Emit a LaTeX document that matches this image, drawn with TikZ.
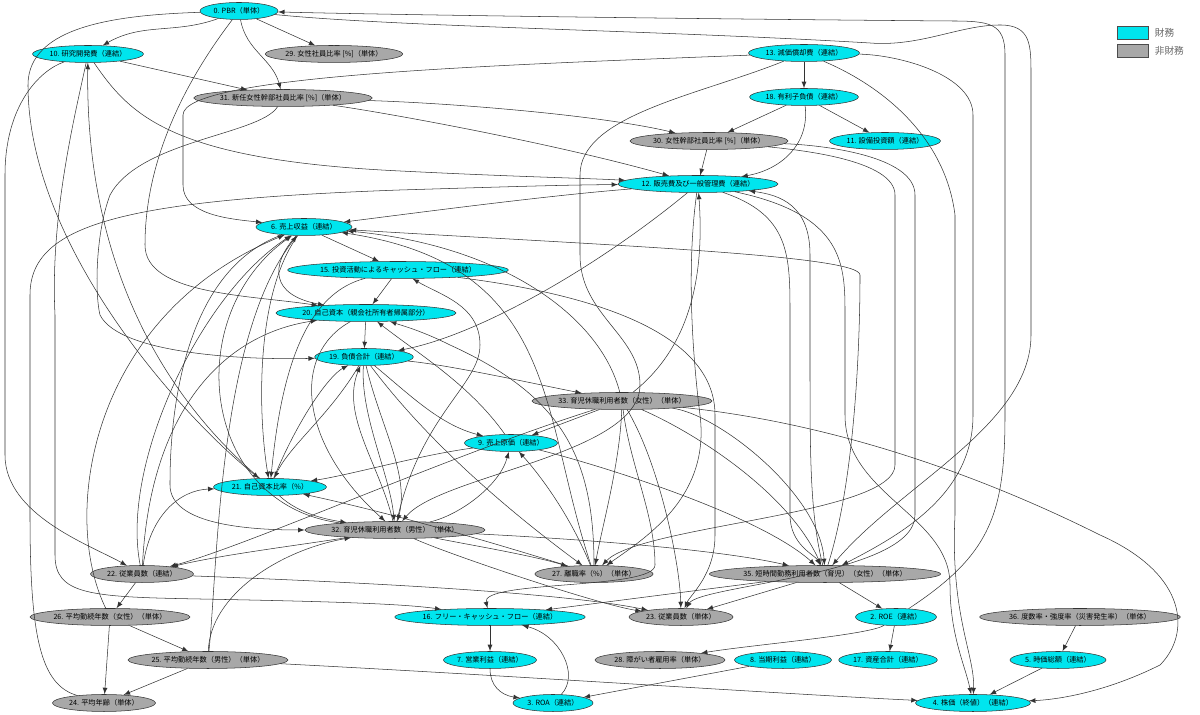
\documentclass[tikz,border=0pt]{standalone}
\usepackage{fontspec}
\setmainfont{Noto Sans CJK JP}
\usetikzlibrary{shapes.geometric}
\definecolor{finc}{RGB}{0,229,238}
\definecolor{nonc}{RGB}{168,168,168}
\begin{document}
\begin{tikzpicture}[>=latex, x=0.02cm, y=0.02cm, line width=0.3pt,
  fin/.style={ellipse, draw=black!80, fill=finc, inner sep=0pt, minimum height=0.34cm, font=\fontsize{4.1}{5}\selectfont},
  nfin/.style={fin, fill=nonc},
  wd/.style={minimum width=#1*0.02cm},
  legbox/.style={rectangle, draw=black!70, inner sep=0pt, minimum width=0.62cm, minimum height=0.26cm},
  lnk/.style={->, draw=black!80}]
\useasboundingbox (0,0) rectangle (1200,715);
% nodes, rank by rank
\node[fin, wd=78] (n0) at (239,704) {0. PBR（単体）};
\node[fin, wd=111] (n10) at (88,661) {10. 研究開発費（連結）};
\node[nfin, wd=137] (n29) at (334,661) {29. 女性社員比率 [\%]（単体）};
\node[fin, wd=111] (n13) at (804,662) {13. 減価償却費（連結）};
\node[nfin, wd=173] (n31) at (283,617) {31. 新任女性幹部社員比率 [\%]（単体）};
\node[fin, wd=106] (n18) at (804,618) {18. 有利子負債（連結）};
\node[nfin, wd=154] (n30) at (709,574) {30. 女性幹部社員比率 [\%]（単体）};
\node[fin, wd=111] (n11) at (885,574) {11. 設備投資額（連結）};
\node[fin, wd=150] (n12) at (698,531) {12. 販売費及び一般管理費（連結）};
\node[fin, wd=96] (n6) at (304,488) {6. 売上収益（連結）};
\node[fin, wd=208] (n15) at (398,445) {15. 投資活動によるキャッシュ・フロー（連結）};
\node[fin, wd=170] (n20) at (366,402) {20. 自己資本（親会社所有者帰属部分）};
\node[fin, wd=97] (n19) at (364,358) {19. 負債合計（連結）};
\node[nfin, wd=176] (n33) at (622,314) {33. 育児休職利用者数（女性）（単体）};
\node[fin, wd=91] (n9) at (511,272) {9. 売上原価（連結）};
\node[fin, wd=113] (n21) at (270,228) {21. 自己資本比率（\%）};
\node[nfin, wd=176] (n32) at (395,185) {32. 育児休職利用者数（男性）（単体）};
\node[nfin, wd=103] (n22) at (142,141) {22. 従業員数（連結）};
\node[nfin, wd=108] (n27) at (594,141) {27. 離職率（\%）（単体）};
\node[nfin, wd=223] (n35) at (825,141) {35. 短時間勤務利用者数（育児）（女性）（単体）};
\node[nfin, wd=156] (n26) at (110,98) {26. 平均勤続年数（女性）（単体）};
\node[fin, wd=180] (n16) at (490,98) {16. フリー・キャッシュ・フロー（連結）};
\node[nfin, wd=104] (n23) at (681,98) {23. 従業員数（単体）};
\node[fin, wd=81] (n2) at (896,98) {2. ROE（連結）};
\node[nfin, wd=195] (n36) at (1080,98) {36. 度数率・強度率（災害発生率）（単体）};
\node[nfin, wd=158] (n25) at (208,55) {25. 平均勤続年数（男性）（単体）};
\node[fin, wd=91] (n7) at (490,55) {7. 営業利益（連結）};
\node[nfin, wd=130] (n28) at (660,55) {28. 障がい者雇用率（単体）};
\node[fin, wd=97] (n8) at (783,55) {8. 当期利益（連結）};
\node[fin, wd=96] (n17) at (888,55) {17. 資産合計（連結）};
\node[fin, wd=96] (n5) at (1058,55) {5. 時価総額（連結）};
\node[nfin, wd=103] (n24) at (104,12) {24. 平均年齢（単体）};
\node[fin, wd=80] (n3) at (553,12) {3. ROA（連結）};
\node[fin, wd=115] (n4) at (973,12) {4. 株価（終値）（連結）};
% legend
\node[legbox, fill=finc] (lfin) at (1133,682) {};
\node[legbox, fill=nonc] (lnon) at (1133,664) {};
\node[right, text=black!60, font=\fontsize{5.5}{6}\selectfont] at (lfin.east) {財務};
\node[right, text=black!60, font=\fontsize{5.5}{6}\selectfont] at (lnon.east) {非財務};
% top
\draw[lnk] (n0) to[out=200,in=30] (n10);
\draw[lnk] (n0) -- (n29);
\draw[lnk] (n0) to[out=-80,in=105] (n31);
\draw[lnk] (n0) .. controls (120,700) and (28,690) .. (28,630) .. controls (28,470) and (180,300) .. (n21);
\draw[lnk] (n0) .. controls (190,640) and (145,560) .. (145,470) .. controls (145,420) and (250,420) .. (n20);
\draw[lnk] (n0) .. controls (400,688) and (650,685) .. (870,672) .. controls (920,668) and (960,690) .. (1000,690) .. controls (1031,690) and (1031,670) .. (1031,640) -- (1031,380) .. controls (1031,290) and (900,230) .. (n35);
\draw[lnk] (n2) .. controls (990,160) and (1005,200) .. (1005,300) -- (1005,660) .. controls (1005,692) and (990,694) .. (950,694) .. controls (700,696) and (400,700) .. (n0);
\draw[lnk] (n10) -- (n31);
\draw[lnk] (n10) .. controls (130,600) and (170,555) .. (400,544) .. controls (520,538) and (580,537) .. (n12);
\draw[lnk] (n10) .. controls (40,645) and (5,610) .. (5,540) -- (5,260) .. controls (5,200) and (90,170) .. (n22);
\draw[lnk] (n10) .. controls (75,600) and (50,500) .. (55,400) -- (55,160) .. controls (55,120) and (90,118) .. (200,116) .. controls (300,114) and (400,112) .. (n16);
\draw[lnk] (n21) .. controls (150,330) and (85,470) .. (n10);
\draw[lnk] (n24) .. controls (40,30) and (30,80) .. (30,200) -- (30,420) .. controls (30,490) and (120,515) .. (400,525) .. controls (500,528) and (560,530) .. (n12);
\draw[lnk] (n13) -- (n18);
\draw[lnk] (n13) .. controls (500,650) and (183,640) .. (183,600) -- (183,530) .. controls (183,500) and (230,496) .. (n6);
\draw[lnk] (n13) .. controls (700,620) and (580,600) .. (580,540) -- (580,460) .. controls (580,400) and (640,380) .. (640,330) .. controls (640,260) and (440,240) .. (n32);
\draw[lnk] (n13) .. controls (900,660) and (973,640) .. (973,600) -- (973,300) .. controls (973,220) and (900,180) .. (n35);
\draw[lnk] (n13) .. controls (880,630) and (945,580) .. (955,500) -- (955,200) .. controls (950,100) and (975,60) .. (n4);
\draw[lnk] (n18) -- (n30);
\draw[lnk] (n18) -- (n11);
\draw[lnk] (n18) .. controls (810,570) and (780,545) .. (n12);
\draw[lnk] (n31) .. controls (400,600) and (560,570) .. (n12);
\draw[lnk] (n31) .. controls (450,612) and (600,600) .. (n30);
\draw[lnk] (n31) .. controls (260,580) and (140,575) .. (110,520) .. controls (95,480) and (95,420) .. (100,400) .. controls (120,360) and (250,355) .. (n19);
\draw[lnk] (n30) -- (n12);
\draw[lnk] (n30) .. controls (800,565) and (895,555) .. (895,520) -- (895,250) .. controls (895,200) and (640,190) .. (n27);
\draw[lnk] (n30) .. controls (820,570) and (915,560) .. (915,520) -- (915,200) .. controls (915,140) and (700,130) .. (n23);
% 12 and 13 downwards
\draw[lnk] (n12) .. controls (550,520) and (400,500) .. (n6);
\draw[lnk] (n12) .. controls (600,450) and (480,380) .. (n19);
\draw[lnk] (n12) .. controls (688,460) and (690,380) .. (700,300) .. controls (710,220) and (650,180) .. (n27);
\draw[lnk] (n33) .. controls (680,360) and (706,420) .. (n12);
\draw[lnk] (n12) .. controls (790,500) and (790,460) .. (790,400) -- (790,200) .. controls (790,170) and (815,160) .. (n35);
\draw[lnk] (n12) .. controls (845,500) and (845,450) .. (845,400) -- (845,300) .. controls (845,220) and (950,200) .. (950,130) .. controls (950,80) and (965,50) .. (n4);
\draw[lnk] (n35) .. controls (810,200) and (810,260) .. (810,350) -- (810,460) .. controls (810,510) and (780,520) .. (n12);
% into 6
\draw[lnk] (n6) -- (n15);
\draw[lnk] (n6) .. controls (270,450) and (270,420) .. (n20);
\draw[lnk] (n6) .. controls (255,420) and (258,300) .. (n21);
\draw[lnk] (n35) .. controls (860,250) and (860,420) .. (860,440) .. controls (860,460) and (600,470) .. (n6);
\draw[lnk] (n27) .. controls (540,300) and (560,450) .. (n6);
\draw[lnk] (n33) .. controls (600,400) and (500,470) .. (n6);
\draw[lnk] (n22) .. controls (120,250) and (200,420) .. (n6);
\draw[lnk] (n26) .. controls (60,200) and (90,400) .. (n6);
\draw[lnk] (n25) .. controls (218,150) and (218,380) .. (n6);
\draw[lnk] (n32) .. controls (200,210) and (180,400) .. (n6);
\draw[lnk] (n6) .. controls (170,440) and (170,260) .. (170,230) .. controls (170,190) and (250,185) .. (n32);
% middle
\draw[lnk] (n15) -- (n20);
\draw[lnk] (n15) .. controls (300,420) and (280,330) .. (n21);
\draw[lnk] (n15) .. controls (600,420) and (715,380) .. (715,300) -- (715,180) .. controls (715,140) and (690,120) .. (n23);
\draw[lnk] (n32) .. controls (420,300) and (480,330) .. (480,370) .. controls (480,410) and (440,420) .. (n15);
\draw[lnk] (n20) -- (n19);
\draw[lnk] (n20) .. controls (290,360) and (300,270) .. (n32);
\draw[lnk] (n27) .. controls (594,260) and (560,320) .. (450,370) .. controls (420,385) and (400,390) .. (n20);
\draw[lnk] (n9) .. controls (470,330) and (420,360) .. (n20);
\draw[lnk] (n19) .. controls (450,350) and (540,330) .. (n33);
\draw[lnk] (n19) .. controls (410,320) and (440,290) .. (n9);
\draw[lnk] (n19) .. controls (360,300) and (390,240) .. (n32);
\draw[lnk] (n19) .. controls (380,290) and (410,240) .. (n32);
\draw[lnk] (n19) .. controls (400,310) and (460,240) .. (n27);
\draw[lnk] (n21) .. controls (300,300) and (330,340) .. (n19);
\draw[lnk] (n32) .. controls (380,250) and (340,300) .. (n19);
\draw[lnk] (n19) .. controls (330,300) and (290,270) .. (n21);
\draw[lnk] (n33) -- (n9);
\draw[lnk] (n9) .. controls (420,260) and (350,240) .. (n21);
\draw[lnk] (n32) .. controls (460,200) and (500,230) .. (n9);
\draw[lnk] (n27) .. controls (570,200) and (540,240) .. (n9);
\draw[lnk] (n9) .. controls (600,250) and (760,200) .. (n35);
% 33 and 32 downwards
\draw[lnk] (n33) .. controls (450,260) and (250,170) .. (n22);
\draw[lnk] (n32) .. controls (300,170) and (220,160) .. (n22);
\draw[lnk] (n33) .. controls (620,250) and (600,180) .. (n27);
\draw[lnk] (n33) .. controls (660,250) and (680,150) .. (n23);
\draw[lnk] (n33) .. controls (700,280) and (790,220) .. (n35);
\draw[lnk] (n33) .. controls (720,300) and (820,220) .. (n35);
\draw[lnk] (n33) .. controls (850,290) and (1000,230) .. (1100,180) .. controls (1190,140) and (1190,80) .. (1160,50) .. controls (1100,20) and (1050,15) .. (n4);
\draw[lnk] (n33) .. controls (630,250) and (655,200) .. (655,150) .. controls (655,125) and (480,135) .. (n16);
\draw[lnk] (n21) .. controls (300,200) and (330,195) .. (n32);
\draw[lnk] (n27) .. controls (500,170) and (400,200) .. (n21);
\draw[lnk] (n22) .. controls (150,200) and (180,225) .. (n21);
\draw[lnk] (n22) .. controls (150,300) and (220,380) .. (n20);
\draw[lnk] (n32) .. controls (470,170) and (530,160) .. (n27);
\draw[lnk] (n32) .. controls (500,180) and (700,170) .. (n35);
\draw[lnk] (n32) .. controls (450,160) and (600,110) .. (n23);
% bottom
\draw[lnk] (n22) -- (n26);
\draw[lnk] (n22) .. controls (300,135) and (550,125) .. (n23);
\draw[lnk] (n26) -- (n25);
\draw[lnk] (n26) -- (n24);
\draw[lnk] (n25) -- (n24);
\draw[lnk] (n25) .. controls (210,120) and (280,165) .. (n32);
\draw[lnk] (n25) .. controls (500,40) and (800,20) .. (n4);
\draw[lnk] (n35) -- (n16);
\draw[lnk] (n35) -- (n23);
\draw[lnk] (n35) -- (n2);
\draw[lnk] (n2) -- (n17);
\draw[lnk] (n2) .. controls (870,80) and (750,70) .. (n28);
\draw[lnk] (n36) -- (n5);
\draw[lnk] (n5) -- (n4);
\draw[lnk] (n16) -- (n7);
\draw[lnk] (n7) .. controls (490,30) and (500,20) .. (n3);
\draw[lnk] (n3) .. controls (580,40) and (560,80) .. (n16);
\draw[lnk] (n8) -- (n3);
\end{tikzpicture}
\end{document}
